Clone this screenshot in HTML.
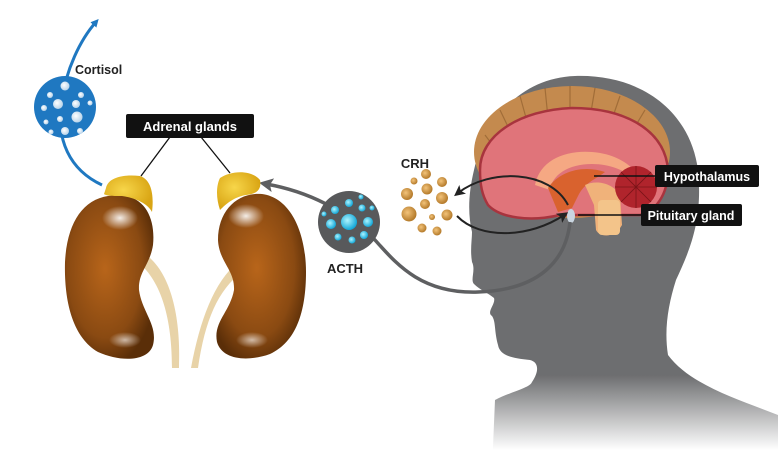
<!DOCTYPE html>
<html><head><meta charset="utf-8"><style>
html,body{margin:0;padding:0;background:#fff;width:780px;height:470px;overflow:hidden}
text{font-family:"Liberation Sans",sans-serif;font-weight:bold}
</style></head><body>
<svg width="780" height="470" viewBox="0 0 780 470" xmlns="http://www.w3.org/2000/svg">
<defs>
<linearGradient id="fade" gradientUnits="userSpaceOnUse" x1="0" y1="76" x2="0" y2="450">
<stop offset="0.8" stop-color="#6d6e70"/><stop offset="1" stop-color="#6d6e70" stop-opacity="0"/></linearGradient>
<radialGradient id="kid" cx="0.45" cy="0.45" r="0.6">
<stop offset="0" stop-color="#b8651a"/><stop offset="0.7" stop-color="#8a4a12"/><stop offset="1" stop-color="#5a2e08"/></radialGradient>
<radialGradient id="hl" cx="0.5" cy="0.5" r="0.5"><stop offset="0" stop-color="#fff" stop-opacity="0.9"/><stop offset="1" stop-color="#fff" stop-opacity="0"/></radialGradient>
<radialGradient id="adr" cx="0.4" cy="0.4" r="0.6"><stop offset="0" stop-color="#f7d64a"/><stop offset="1" stop-color="#d9a514"/></radialGradient>
<radialGradient id="cy" cx="0.4" cy="0.4" r="0.6"><stop offset="0" stop-color="#aef4ff"/><stop offset="1" stop-color="#14a8d8"/></radialGradient>
<radialGradient id="wd" cx="0.4" cy="0.4" r="0.6"><stop offset="0" stop-color="#fff"/><stop offset="1" stop-color="#b9d4ea"/></radialGradient>
<radialGradient id="gd" cx="0.4" cy="0.4" r="0.6"><stop offset="0" stop-color="#f3c37a"/><stop offset="1" stop-color="#b47a2a"/></radialGradient>
<marker id="ab" markerWidth="8" markerHeight="8" refX="4" refY="4" orient="auto" markerUnits="userSpaceOnUse"><path d="M0,0 L8,4 L0,8 Z" fill="#1f78c1"/></marker>
<marker id="ag" markerWidth="14" markerHeight="14" refX="7" refY="7" orient="auto" markerUnits="userSpaceOnUse"><path d="M0,0 L14,7 L0,14 L3,7 Z" fill="#5e5f61"/></marker>
<marker id="ak" markerWidth="11" markerHeight="11" refX="6" refY="5.5" orient="auto" markerUnits="userSpaceOnUse"><path d="M0,0 L11,5.5 L0,11 L2.5,5.5 Z" fill="#222"/></marker>
</defs>

<!-- head silhouette -->
<path d="M575,76 C640,74 690,110 698,170 C703,220 690,250 676,280 C668,305 664,330 668,355 C690,385 740,400 778,415 L778,470 L492,470 L495,400 C510,392 530,388 532,382 C540,370 538,362 530,360 C512,358 500,356 498,345 C494,330 496,322 492,316 C486,312 496,304 494,298 C488,293 480,290 474,284 C470,280 476,270 472,262 C470,250 472,240 472,232 C468,215 468,195 474,170 C485,120 520,78 575,76 Z" fill="url(#fade)"/>

<!-- brain outer tan -->
<ellipse cx="572" cy="152" rx="98" ry="66" fill="#c48a4e"/>
<g stroke="#8a5a2a" stroke-width="1.2" opacity="0.6">
<line x1="500" y1="110" x2="512" y2="135"/><line x1="520" y1="96" x2="528" y2="125"/><line x1="545" y1="88" x2="548" y2="118"/>
<line x1="570" y1="86" x2="570" y2="116"/><line x1="595" y1="88" x2="590" y2="118"/><line x1="620" y1="96" x2="610" y2="125"/>
<line x1="645" y1="110" x2="630" y2="135"/><line x1="485" y1="135" x2="500" y2="155"/></g>
<!-- pink brain -->
<path d="M480,170 C480,135 520,110 572,108 C625,108 665,130 668,170 C668,195 655,212 640,215 L560,215 C530,222 500,218 488,205 C482,195 480,185 480,170 Z" fill="#e0747a" stroke="#a8343e" stroke-width="2.5"/>
<path d="M535,185 C540,160 565,150 592,152 C620,154 640,170 640,185 C630,172 612,164 592,164 C568,164 552,175 550,190 Z" fill="#f5a883"/>
<path d="M548,188 C560,170 585,165 605,172 C595,180 585,182 578,196 L572,208 L558,212 Z" fill="#d9622e"/>
<path d="M585,185 C595,180 612,182 620,195 L622,225 C615,238 600,238 596,230 L594,205 Z" fill="#f0b27a"/>
<circle cx="636" cy="187" r="21" fill="#b0242c"/>
<g stroke="#7a1418" stroke-width="0.8"><line x1="636" y1="166" x2="636" y2="208"/><line x1="615" y1="187" x2="657" y2="187"/><line x1="621" y1="172" x2="651" y2="202"/><line x1="651" y1="172" x2="621" y2="202"/></g>
<rect x="598" y="200" width="22" height="35" rx="4" fill="#f3c48a"/>
<ellipse cx="571" cy="216" rx="4" ry="7" fill="#c9d5e0"/>

<line x1="594" y1="176" x2="660" y2="176" stroke="#111" stroke-width="1.5"/>
<line x1="578" y1="215" x2="645" y2="215" stroke="#111" stroke-width="1.5"/>
<rect x="655" y="165" width="104" height="22" rx="2" fill="#111"/>
<text x="707" y="181" font-size="12.5" fill="#fff" text-anchor="middle">Hypothalamus</text>
<rect x="641" y="204" width="101" height="22" rx="2" fill="#111"/>
<text x="691" y="220" font-size="12.5" fill="#fff" text-anchor="middle">Pituitary gland</text>

<path d="M568,205 C550,170 490,168 458,193" fill="none" stroke="#222" stroke-width="2" marker-end="url(#ak)"/>
<path d="M457,216 C480,240 530,238 564,215" fill="none" stroke="#222" stroke-width="2" marker-end="url(#ak)"/>

<text x="415" y="168" font-size="13" fill="#222" text-anchor="middle">CRH</text>
<g fill="url(#gd)">
<circle cx="426" cy="174" r="5"/><circle cx="414" cy="181" r="3.5"/><circle cx="442" cy="182" r="5"/><circle cx="427" cy="189" r="5.5"/>
<circle cx="407" cy="194" r="6"/><circle cx="442" cy="198" r="6"/><circle cx="425" cy="204" r="5"/><circle cx="409" cy="214" r="7.5"/>
<circle cx="432" cy="217" r="3"/><circle cx="447" cy="215" r="5.5"/><circle cx="422" cy="228" r="4.5"/><circle cx="437" cy="231" r="4.5"/></g>

<path d="M570,222 C566,260 540,290 478,292 C420,294 395,262 375,240 C340,205 300,190 266,184" fill="none" stroke="#5e5f61" stroke-width="3.5" marker-end="url(#ag)"/>
<circle cx="349" cy="222" r="31" fill="#58595b"/>
<g fill="url(#cy)">
<circle cx="349" cy="222" r="8"/><circle cx="335" cy="210" r="4"/><circle cx="349" cy="203" r="4"/><circle cx="362" cy="208" r="3.5"/>
<circle cx="368" cy="222" r="5"/><circle cx="331" cy="224" r="5"/><circle cx="338" cy="237" r="3.5"/><circle cx="352" cy="240" r="3.5"/>
<circle cx="364" cy="235" r="4"/><circle cx="324" cy="214" r="2.5"/><circle cx="372" cy="208" r="2.5"/><circle cx="361" cy="197" r="2.5"/></g>
<text x="345" y="273" font-size="13" fill="#222" text-anchor="middle">ACTH</text>

<path d="M102,185 C70,170 55,140 62,100 C66,70 80,40 96,22" fill="none" stroke="#1f78c1" stroke-width="3" marker-end="url(#ab)"/>
<circle cx="65" cy="107" r="31" fill="#1f78c1"/>
<g fill="url(#wd)">
<circle cx="65" cy="86" r="4.5"/><circle cx="50" cy="95" r="3"/><circle cx="81" cy="95" r="3"/><circle cx="58" cy="104" r="5"/>
<circle cx="76" cy="104" r="4"/><circle cx="90" cy="103" r="2.5"/><circle cx="44" cy="108" r="3"/><circle cx="77" cy="117" r="5.5"/>
<circle cx="60" cy="119" r="3"/><circle cx="46" cy="122" r="2.5"/><circle cx="65" cy="131" r="4"/><circle cx="80" cy="131" r="3"/><circle cx="51" cy="132" r="2.5"/></g>
<text x="75" y="74" font-size="12.5" fill="#222">Cortisol</text>

<line x1="170" y1="137" x2="141" y2="176" stroke="#111" stroke-width="1.3"/>
<line x1="201" y1="137" x2="230" y2="173" stroke="#111" stroke-width="1.3"/>
<rect x="126" y="114" width="128" height="24" rx="2" fill="#111"/>
<text x="190" y="131" font-size="13" fill="#fff" text-anchor="middle">Adrenal glands</text>

<!-- ureters -->
<path d="M138,262 C162,282 172,320 172,368 L179,368 C181,320 172,278 150,258 Z" fill="#e8d3a8"/>
<path d="M238,262 C214,282 200,320 191,368 L198,368 C205,320 218,290 242,272 Z" fill="#e8d3a8"/>

<!-- kidneys -->
<path d="M108,196 C142,190 156,215 153,245 C150,265 138,272 139,290 C142,312 158,325 153,345 C148,362 120,362 98,352 C72,337 64,300 65,262 C67,224 82,200 108,196 Z" fill="url(#kid)"/>
<path d="M262,194 C292,198 306,235 306,272 C306,312 296,342 270,354 C248,362 222,360 217,342 C213,322 230,312 234,290 C235,270 219,262 218,240 C218,210 238,192 262,194 Z" fill="url(#kid)"/>
<ellipse cx="120" cy="218" rx="18" ry="12" fill="url(#hl)"/>
<ellipse cx="246" cy="216" rx="18" ry="12" fill="url(#hl)"/>
<ellipse cx="125" cy="340" rx="16" ry="8" fill="url(#hl)" opacity="0.7"/>
<ellipse cx="252" cy="340" rx="16" ry="8" fill="url(#hl)" opacity="0.7"/>
<!-- adrenals -->
<path d="M106,188 C108,178 122,174 140,176 C152,180 154,196 152,212 C148,204 136,198 122,196 C114,196 106,196 104,194 Z" fill="url(#adr)"/>
<path d="M220,178 C232,170 252,170 260,180 C262,190 256,194 246,195 C234,197 226,204 220,210 C216,198 216,186 220,178 Z" fill="url(#adr)"/>
</svg>
</body></html>
